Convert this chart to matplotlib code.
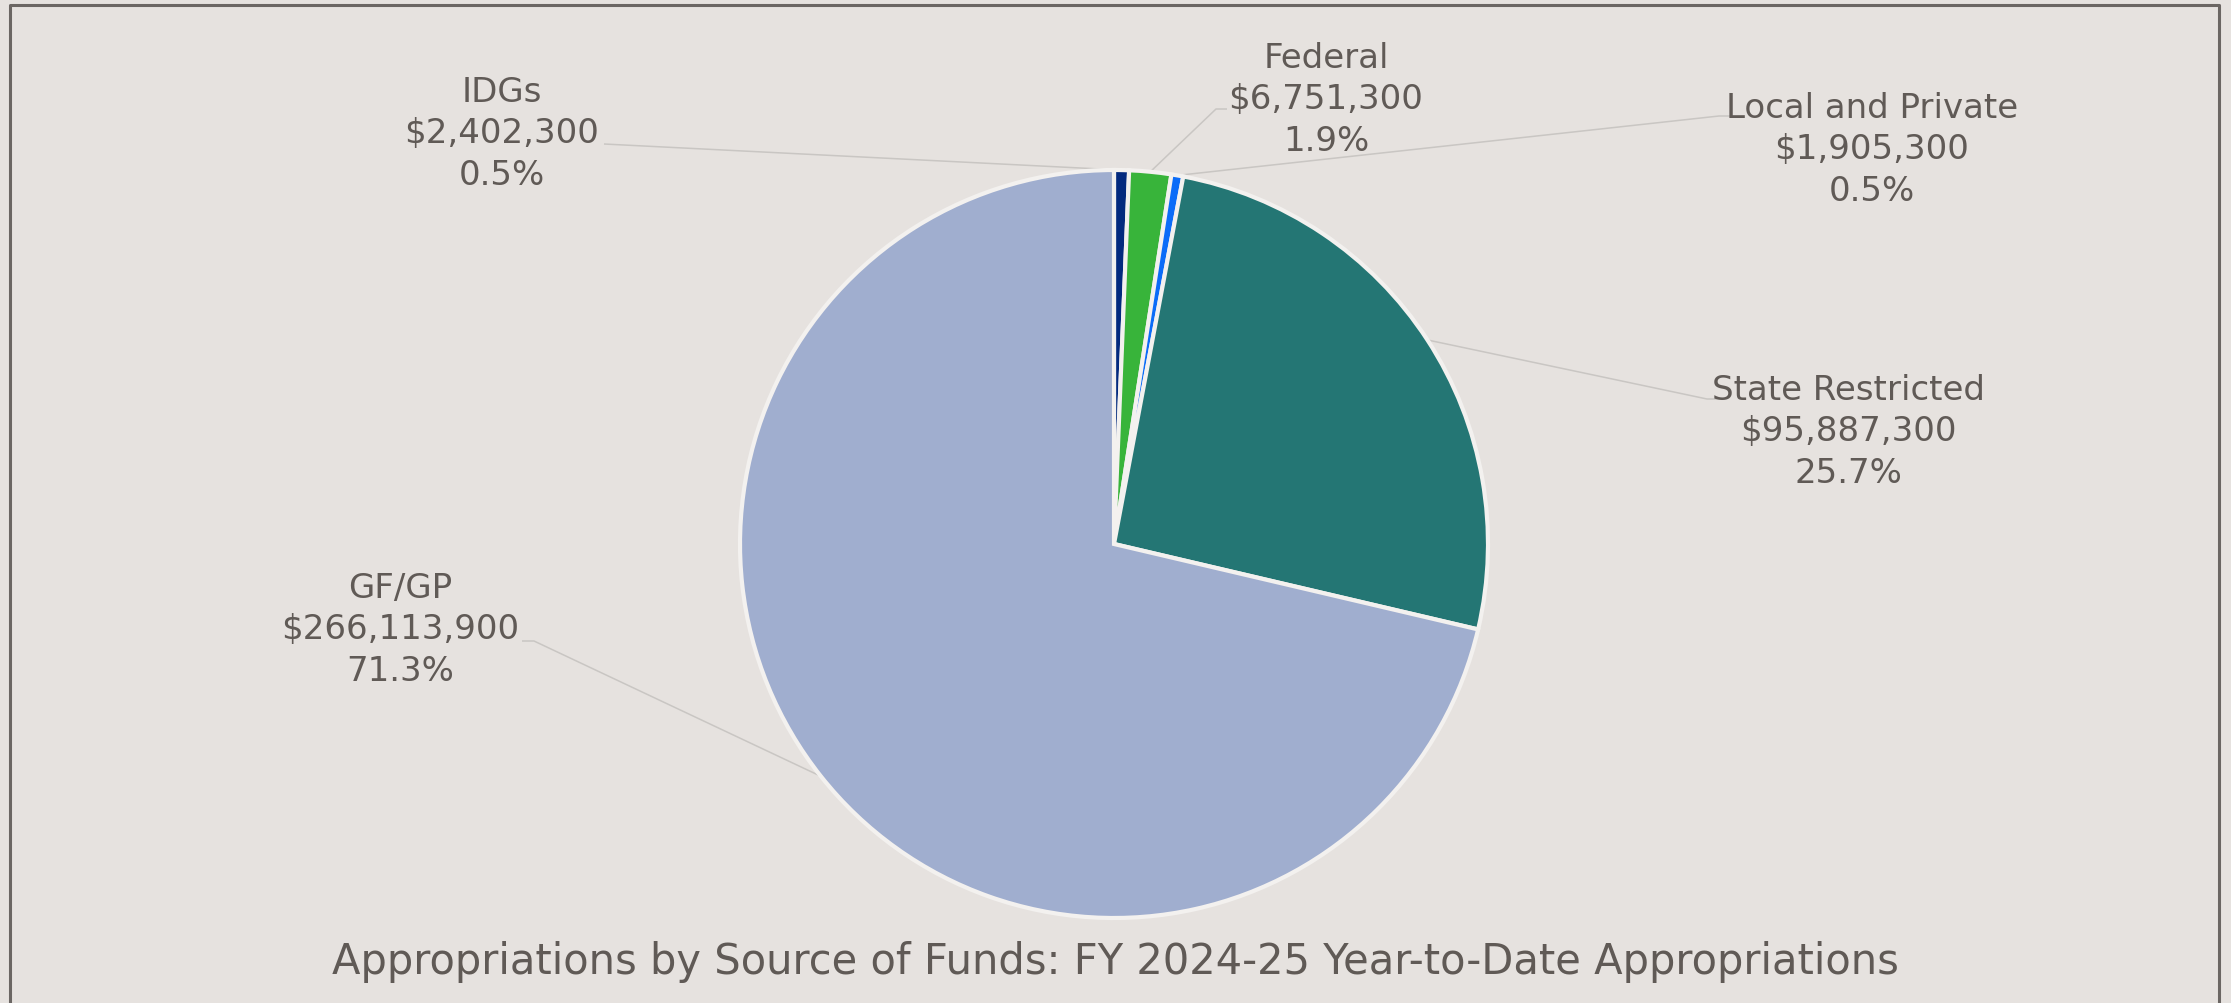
"""Pie chart of appropriations by source of funds, FY 2024-25."""
import matplotlib

matplotlib.use("Agg")
import matplotlib.pyplot as plt
import numpy as np
from matplotlib.lines import Line2D

# data
sources = ["IDGs", "Federal", "Local and Private", "State Restricted", "GF/GP"]
amounts = [2402300, 6751300, 1905300, 95887300, 266113900]
pct_labels = ["0.5%", "1.9%", "0.5%", "25.7%", "71.3%"]
colors = ["#032a7e", "#38b43a", "#0b6cf8", "#247674", "#a0aecf"]

W, H = 2231, 1004
BG = "#e6e2df"
TXT = "#605a56"

# label layout in pixel coords (x, y from top): text centre, leader anchor, stub end
label_pos = {
    "IDGs": ((502, 134), (604, 145), (604, 145)),
    "Federal": ((1326, 100), (1227, 110), (1216, 110)),
    "Local and Private": ((1872, 150), (1731, 117), (1719, 117)),
    "State Restricted": ((1848, 432), (1720, 400), (1707, 400)),
    "GF/GP": ((400, 630), (522, 642), (534, 642)),
}

fig = plt.figure(figsize=(W / 100, H / 100), dpi=100)
fig.set_facecolor(BG)
ax = fig.add_axes([0, 0, 1, 1])
ax.set_xlim(0, W)
ax.set_ylim(0, H)
ax.set_aspect("equal")
ax.axis("off")

cx, cy, r = 1114, H - 545, 374
wedges, _ = ax.pie(
    amounts,
    colors=colors,
    startangle=90,
    counterclock=False,
    center=(cx, cy),
    radius=r,
    wedgeprops={"edgecolor": "#f3f1ef", "linewidth": 3.0},
)
ax.set_xlim(0, W)
ax.set_ylim(0, H)

for wedge, name, amt, pct in zip(wedges, sources, amounts, pct_labels):
    (tx, ty), (ax_, ay_), (sx, sy) = label_pos[name]
    ang = np.deg2rad((wedge.theta1 + wedge.theta2) / 2)
    ex, ey = cx + r * np.cos(ang), cy + r * np.sin(ang)
    ax.plot([ex, sx, ax_], [ey, H - sy, H - ay_], color="#c9c6c3", lw=1.1,
            zorder=0, solid_capstyle="butt")
    ax.text(tx, H - ty, f"{name}\n${amt:,}\n{pct}", ha="center", va="center",
            fontsize=24.5, color=TXT, linespacing=1.34)

ax.text(1115, H - 962, "Appropriations by Source of Funds: FY 2024-25 "
        "Year-to-Date Appropriations", ha="center", va="center",
        fontsize=30, color=TXT)

# frame around the chart area (left, top, right)
frame_x = [10 / W, 10 / W, 2219 / W, 2219 / W]
frame_y = [0, 1 - 6 / H, 1 - 6 / H, 0]
fig.add_artist(Line2D(frame_x, frame_y, color="#6b6663", lw=2.2))

fig.savefig("out.png", dpi=100, facecolor=BG)
